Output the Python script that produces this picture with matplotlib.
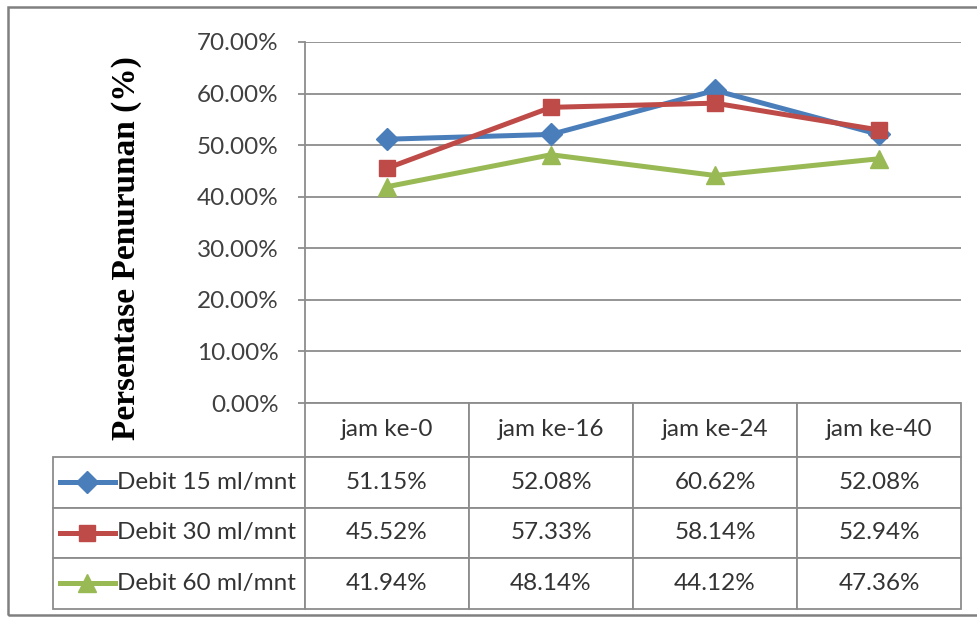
import matplotlib
matplotlib.use("Agg")
import matplotlib.pyplot as plt
from matplotlib.table import Table
from matplotlib.lines import Line2D
from matplotlib.patches import Rectangle
from matplotlib.ticker import FuncFormatter, MultipleLocator

# Data
categories = ["jam ke-0", "jam ke-16", "jam ke-24", "jam ke-40"]
series_names = ["Debit 15 ml/mnt", "Debit 30 ml/mnt", "Debit 60 ml/mnt"]
debit_15 = [51.15, 52.08, 60.62, 52.08]
debit_30 = [45.52, 57.33, 58.14, 52.94]
debit_60 = [41.94, 48.14, 44.12, 47.36]
series_values = [debit_15, debit_30, debit_60]

colors = ["#4A7EBB", "#BE4B48", "#98B954"]
markers = ["D", "s", "^"]
marker_sizes = [11, 12, 13]

W, H = 977, 619
fig = plt.figure(figsize=(W / 100, H / 100), dpi=100)
fig.patch.set_facecolor("white")

def px_x(x):
    return x / W

def px_y(y):
    return 1 - y / H

# plot area in pixel coordinates
ax_l, ax_r, ax_t, ax_b = 305, 961, 42, 403
ax = fig.add_axes([px_x(ax_l), px_y(ax_b), (ax_r - ax_l) / W, (ax_b - ax_t) / H])

text_font = "Lato"
text_color = "#404040"
grid_color = "#8C8C8C"
font_size = 17.5

x = list(range(len(categories)))
for vals, c, m, ms in zip(series_values, colors, markers, marker_sizes):
    ax.plot([i + 0.5 for i in x], vals, color=c, lw=3.6, marker=m, ms=ms,
            markeredgecolor=c, markerfacecolor=c, zorder=3, clip_on=False)

ax.set_xlim(0, len(categories))
ax.set_ylim(0, 70)
ax.yaxis.set_major_locator(MultipleLocator(10))
ax.yaxis.set_major_formatter(FuncFormatter(lambda v, p: f"{v:.2f}%"))
ax.grid(axis="y", color=grid_color, lw=1.3)
ax.set_axisbelow(True)
ax.set_xticks([])
for s in ["top", "right", "bottom"]:
    ax.spines[s].set_visible(False)
ax.spines["left"].set_color(grid_color)
ax.spines["left"].set_linewidth(1.3)
ax.tick_params(axis="y", length=5, color=grid_color, width=1.3, pad=14,
               labelsize=font_size, labelcolor=text_color)
for lab in ax.get_yticklabels():
    lab.set_fontfamily(text_font)

# y-axis title
fig.text(px_x(127), px_y(248), "Persentase Penurunan (%)", rotation=90,
         ha="center", va="center", fontsize=24, fontweight="bold",
         family="Liberation Serif", color="black")

# data table below the plot
tbl_l, tbl_r, tbl_t, tbl_b = 53, 961, 403, 609
ax_w, ax_h = ax_r - ax_l, ax_b - ax_t
bbox = [(tbl_l - ax_l) / ax_w, (ax_b - tbl_b) / ax_h,
        (tbl_r - tbl_l) / ax_w, (tbl_b - tbl_t) / ax_h]
tbl = Table(ax, bbox=bbox)
label_w, col_w = 252, 164
header_h, row_h = 54, 50.7

for j, cat in enumerate(categories):
    tbl.add_cell(0, j + 1, width=col_w, height=header_h, text=cat, loc="center")
for i, (name, vals) in enumerate(zip(series_names, series_values)):
    cell = tbl.add_cell(i + 1, 0, width=label_w, height=row_h, text=name, loc="left")
    cell.PAD = 64 / label_w
    for j, v in enumerate(vals):
        tbl.add_cell(i + 1, j + 1, width=col_w, height=row_h, text=f"{v:.2f}%", loc="center")

tbl.auto_set_font_size(False)
tbl.set_fontsize(font_size)
for cell in tbl.get_celld().values():
    cell.set_edgecolor(grid_color)
    cell.set_linewidth(1.3)
    cell.get_text().set_fontfamily(text_font)
    cell.get_text().set_color("#333333")
ax.add_table(tbl)

# legend keys inside the row labels
row_centers = [482, 532.5, 583]
for yc, c, m, ms in zip(row_centers, colors, markers, marker_sizes):
    key = Line2D([px_x(60), px_x(87), px_x(115)], [px_y(yc)] * 3,
                 transform=fig.transFigure, color=c, lw=3.6, marker=m,
                 ms=ms, markevery=[1], markerfacecolor=c, markeredgecolor=c)
    fig.add_artist(key)

# chart frame
frame = Rectangle((px_x(8), px_y(615)), px_x(985) - px_x(8), px_y(7) - px_y(615),
                  transform=fig.transFigure, fill=False, edgecolor="#808080",
                  lw=1.8, clip_on=False)
fig.add_artist(frame)

fig.savefig("out.png", dpi=100, facecolor="white")
